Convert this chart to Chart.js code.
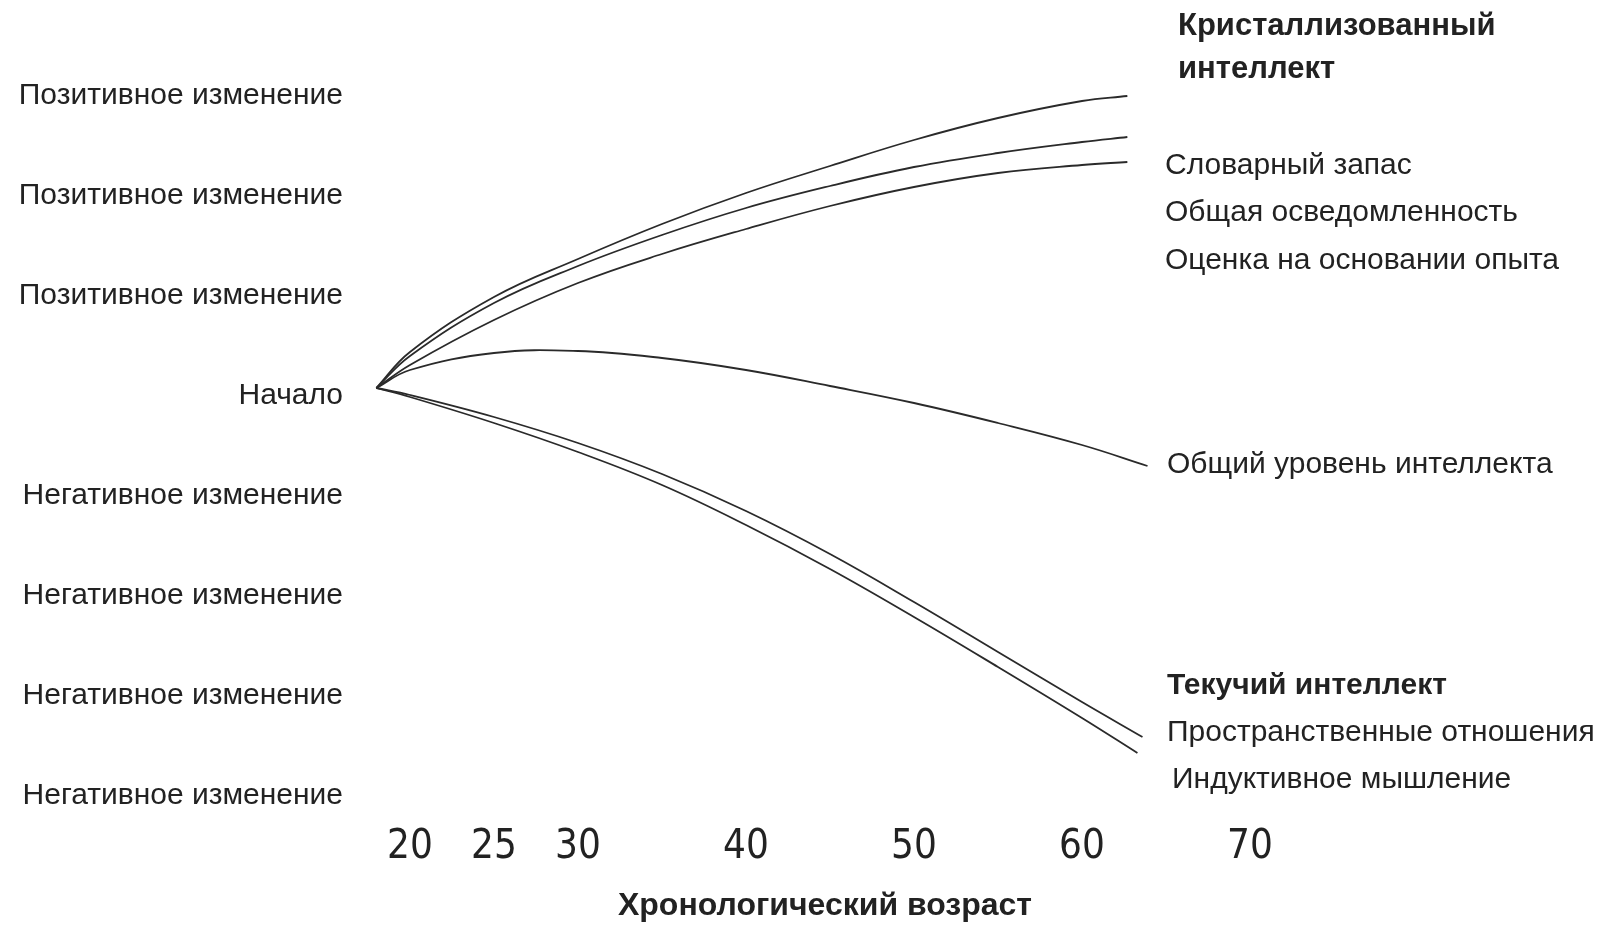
<!DOCTYPE html>
<html lang="ru">
<head>
<meta charset="utf-8">
<title>Кристаллизованный и текучий интеллект</title>
<script src="https://cdn.jsdelivr.net/npm/chart.js@4"></script>
<style>
  html, body { margin: 0; padding: 0; background: #fff; }
  #wrap { width: 1598px; height: 925px; position: relative; }
</style>
</head>
<body>
<div id="wrap"><canvas id="ageChart"></canvas></div>
<script>
// возраст (лет) и изменение относительно начала
var ageCryst = [18, 20, 25, 30, 35, 40, 45, 50, 55, 60, 62.7];
var vocabulary = [0, 0.36, 0.91, 1.29, 1.64, 1.95, 2.22, 2.48, 2.70, 2.87, 2.92];
var information = [0, 0.32, 0.85, 1.22, 1.53, 1.80, 2.02, 2.21, 2.35, 2.46, 2.51];
var judgement = [0, 0.23, 0.68, 1.05, 1.34, 1.59, 1.82, 2.01, 2.15, 2.23, 2.26];

var ageGeneral = [18, 20, 25, 30, 35, 40, 45, 50, 55, 60, 63.9];
var general = [0, 0.18, 0.35, 0.37, 0.30, 0.18, 0.02, -0.15, -0.35, -0.57, -0.78];

var ageSpatial = [18, 20, 25, 30, 35, 40, 45, 50, 55, 60, 63.6];
var spatial = [0, -0.07, -0.29, -0.55, -0.86, -1.23, -1.66, -2.14, -2.64, -3.14, -3.49];

var ageInductive = [18, 20, 25, 30, 35, 40, 45, 50, 55, 60, 63.3];
var inductive = [0, -0.09, -0.35, -0.64, -0.97, -1.37, -1.81, -2.29, -2.79, -3.30, -3.65];

var xTicks = [20, 25, 30, 40, 50, 60, 70];
var yTicks = [3, 2, 1, 0, -1, -2, -3, -4];
var yTickLabels = [
  "Позитивное изменение",
  "Позитивное изменение",
  "Позитивное изменение",
  "Начало",
  "Негативное изменение",
  "Негативное изменение",
  "Негативное изменение",
  "Негативное изменение",
];

function pts(ages, vals) {
  return ages.map(function (a, i) { return { x: a, y: vals[i] }; });
}

var LINE = "#2a2a2a";
var FONT = "'Liberation Sans', Arial, sans-serif";

// подписи справа и подпись оси
var notes = [
  { text: "Кристаллизованный", bold: true, size: 31, x: 1178, y: 26 },
  { text: "интеллект", bold: true, size: 31, x: 1178, y: 69 },
  { text: "Словарный запас", x: 1165, y: 166 },
  { text: "Общая осведомленность", x: 1165, y: 213 },
  { text: "Оценка на основании опыта", x: 1165, y: 261 },
  { text: "Общий уровень интеллекта", x: 1167, y: 465 },
  { text: "Текучий интеллект", bold: true, x: 1167, y: 686 },
  { text: "Пространственные отношения", x: 1167, y: 733 },
  { text: "Индуктивное мышление", x: 1172, y: 780 },
  { text: "Хронологический возраст", bold: true, size: 32, x: 825, y: 906, align: "center" },
];

var notesPlugin = {
  id: "notes",
  afterDraw: function (chart) {
    var ctx = chart.ctx;
    ctx.save();
    ctx.fillStyle = "#222";
    ctx.textBaseline = "middle";
    notes.forEach(function (n) {
      ctx.font = (n.bold ? "bold " : "") + (n.size || 30) + "px " + FONT;
      ctx.textAlign = n.align || "left";
      ctx.fillText(n.text, n.x, n.y);
    });
    ctx.restore();
  },
};

function series(label, ages, vals) {
  return {
    label: label,
    data: pts(ages, vals),
    borderColor: LINE,
    borderWidth: 1.8,
    pointRadius: 0,
    fill: false,
    tension: 0.4,
  };
}

var ctx = document.getElementById("ageChart").getContext("2d");
new Chart(ctx, {
  type: "line",
  data: {
    datasets: [
      series("Словарный запас", ageCryst, vocabulary),
      series("Общая осведомленность", ageCryst, information),
      series("Оценка на основании опыта", ageCryst, judgement),
      series("Общий уровень интеллекта", ageGeneral, general),
      series("Пространственные отношения", ageSpatial, spatial),
      series("Индуктивное мышление", ageInductive, inductive),
    ],
  },
  plugins: [notesPlugin],
  options: {
    responsive: true,
    maintainAspectRatio: false,
    animation: false,
    layout: { padding: { top: 88, right: 348, left: 0, bottom: 0 } },
    plugins: {
      legend: { display: false },
      tooltip: { enabled: false },
    },
    scales: {
      x: {
        type: "linear",
        min: 17.8,
        max: 70,
        grid: { display: false, drawTicks: false },
        border: { display: false },
        afterBuildTicks: function (scale) {
          scale.ticks = xTicks.map(function (v) { return { value: v }; });
        },
        afterFit: function (scale) { scale.height = 137; },
        ticks: {
          autoSkip: false,
          maxRotation: 0,
          padding: 36,
          color: "#222",
          font: { family: "'DejaVu Sans Condensed', sans-serif", size: 40 },
        },
      },
      y: {
        min: -4,
        max: 3,
        grid: { display: false, drawTicks: false },
        border: { display: false },
        afterBuildTicks: function (scale) {
          scale.ticks = yTicks.map(function (v) { return { value: v }; });
        },
        afterFit: function (scale) { scale.width = 373; },
        ticks: {
          autoSkip: false,
          padding: 30,
          labelOffset: 8,
          color: "#222",
          font: { family: FONT, size: 30 },
          callback: function (value) {
            return yTickLabels[yTicks.indexOf(value)];
          },
        },
      },
    },
  },
});
</script>
</body>
</html>
